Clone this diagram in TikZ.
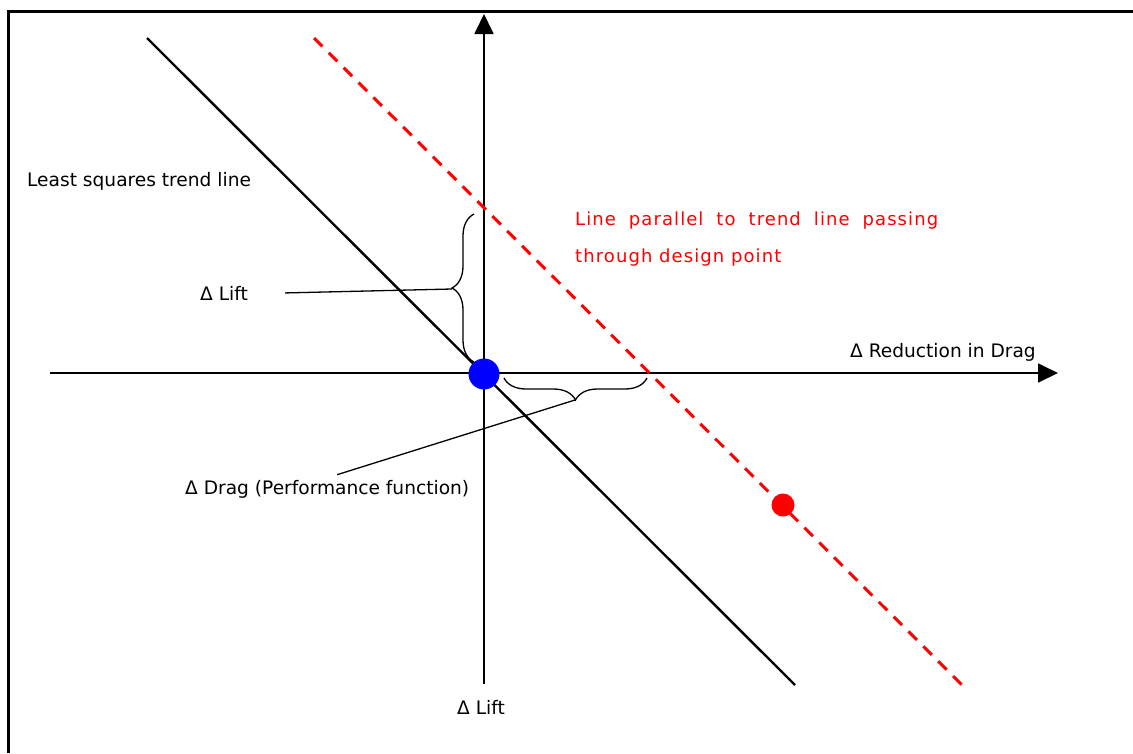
\documentclass[tikz,border=0pt]{standalone}
\usepackage{fontspec}
\setmainfont{DejaVu Sans}
\usetikzlibrary{arrows.meta,decorations.pathreplacing}
\begin{document}
\begin{tikzpicture}[x=1pt,y=-1pt,
  lbl/.style={font=\fontsize{18.6}{22}\selectfont, inner sep=0pt, anchor=base west},
  redlbl/.style={inner sep=0pt, anchor=base west, text=red,
    font=\fontsize{18}{22}\selectfont\addfontfeature{LetterSpace=6}},
  axis/.style={line width=1.8pt, -{Triangle[length=20pt,width=19pt]}},
  trend/.style={line width=2.4pt},
  parline/.style={line width=3pt, red, dash pattern=on 12pt off 9pt},
  bracestyle/.style={line width=1.3pt, decorate, decoration={brace, amplitude=22pt}},
  leader/.style={line width=1.3pt},
  dot/.style={circle, inner sep=0pt, draw=none},
]
\useasboundingbox (0,0) rectangle (1133,753);
% frame (only top and left edges visible)
\draw[line width=3pt] (8,753) -- (8,11.5) -- (1133,11.5);

% axes
\coordinate (xl) at (50,373);
\coordinate (xr) at (1058,373);
\coordinate (yb) at (484,684);
\coordinate (yt) at (484,14);
\draw[axis] (xl) -- (xr);
\draw[axis] (yb) -- (yt);

% trend line and parallel line
\coordinate (t1) at (147,38);
\coordinate (t2) at (795,685);
\coordinate (p1) at (314,38);
\coordinate (p2) at (962,685);
\draw[trend] (t1) -- (t2);
\draw[parline] (p1) -- (p2);

% braces
\draw[bracestyle] (474,362) -- (474,214);
\coordinate (liftTip) at (452,289);
\draw[bracestyle] (647,378) -- (504,378);
\coordinate (dragTip) at (575,400);

% labels
\node[lbl] (trendlbl) at (27,186) {Least squares trend line};
\node[lbl] (liftlbl) at (200,300) {Δ Lift};
\node[lbl] (draglbl) at (185,494) {Δ Drag (Performance function)};
\node[lbl] (redlbl) at (850,357) {Δ Reduction in Drag};
\node[lbl] (liftaxis) at (457,714) {Δ Lift};
\node[redlbl] (par1) at (575,225) {\spaceskip=13pt Line parallel to trend line passing};
\node[redlbl] (par2) at (575,262) {through design point};

% leaders
\draw[leader] ([xshift=37pt]liftlbl.east) -- (liftTip);
\draw[leader] (dragTip) -- ([xshift=10pt,yshift=5pt]draglbl.north);

% points
\node[dot, fill=blue, minimum size=31pt] (origin) at (484,374) {};
\node[dot, fill=red, minimum size=23pt] (design) at (783,505) {};
\end{tikzpicture}
\end{document}
